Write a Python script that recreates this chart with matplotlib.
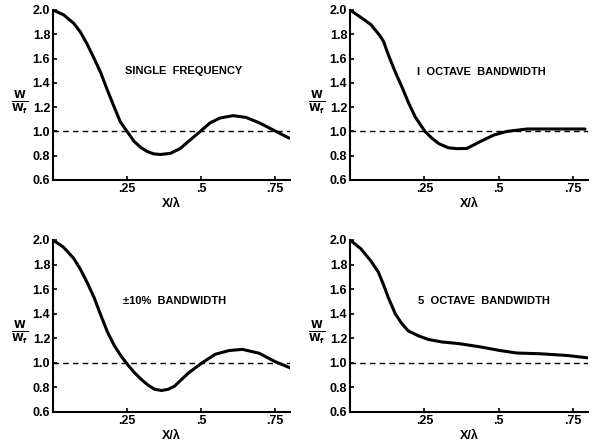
import matplotlib
matplotlib.use("Agg")
import matplotlib.pyplot as plt

plt.rcParams['font.family'] = ['Liberation Sans', 'DejaVu Sans']

# Single frequency
x_single = [0.0, 0.036, 0.07, 0.092, 0.115, 0.137, 0.16, 0.182, 0.205, 0.227, 0.25,
            0.273, 0.295, 0.318, 0.34, 0.363, 0.397, 0.43, 0.463, 0.497, 0.53,
            0.563, 0.608, 0.652, 0.697, 0.741, 0.797]
y_single = [2.0, 1.96, 1.89, 1.82, 1.72, 1.61, 1.49, 1.35, 1.21, 1.08, 1.0,
            0.92, 0.87, 0.835, 0.815, 0.81, 0.82, 0.86, 0.93, 1.0, 1.07,
            1.11, 1.13, 1.115, 1.07, 1.015, 0.945]

# 1 octave bandwidth
x_oct1 = [0.0, 0.036, 0.07, 0.1, 0.113, 0.129, 0.152, 0.174, 0.196, 0.219, 0.252,
          0.275, 0.298, 0.331, 0.36, 0.393, 0.438, 0.483, 0.527, 0.595, 0.70, 0.79]
y_oct1 = [2.0, 1.94, 1.88, 1.79, 1.74, 1.63, 1.49, 1.37, 1.24, 1.12, 1.0,
          0.945, 0.90, 0.865, 0.858, 0.86, 0.917, 0.97, 1.0, 1.02, 1.02, 1.02]

# +-10% bandwidth
x_bw10 = [0.0, 0.036, 0.07, 0.093, 0.116, 0.139, 0.161, 0.184, 0.207, 0.23, 0.252,
          0.275, 0.298, 0.32, 0.343, 0.366, 0.389, 0.41, 0.457, 0.503, 0.548,
          0.594, 0.639, 0.696, 0.753, 0.802]
y_bw10 = [2.0, 1.94, 1.85, 1.76, 1.65, 1.53, 1.39, 1.25, 1.14, 1.055, 0.985,
          0.92, 0.865, 0.82, 0.785, 0.775, 0.785, 0.81, 0.917, 1.0, 1.07,
          1.10, 1.11, 1.078, 1.006, 0.958]

# 5 octave bandwidth
x_oct5 = [0.0, 0.036, 0.07, 0.095, 0.112, 0.129, 0.152, 0.174, 0.196, 0.23, 0.264,
          0.309, 0.365, 0.438, 0.505, 0.561, 0.64, 0.73, 0.802]
y_oct5 = [2.0, 1.93, 1.83, 1.74, 1.64, 1.53, 1.40, 1.32, 1.26, 1.22, 1.19,
          1.17, 1.157, 1.13, 1.10, 1.08, 1.074, 1.06, 1.04]

titles = ["SINGLE  FREQUENCY", "I  OCTAVE  BANDWIDTH", "\u00b110%  BANDWIDTH", "5  OCTAVE  BANDWIDTH"]
label_pos = [(0.44, 1.5), (0.44, 1.49), (0.41, 1.5), (0.45, 1.5)]
yticks = [0.6, 0.8, 1.0, 1.2, 1.4, 1.6, 1.8, 2.0]
ytick_labels = ["0.6", "0.8", "1.0", "1.2", "1.4", "1.6", "1.8", "2.0"]
xticks = [0.25, 0.5, 0.75]
xtick_labels = [".25", ".5", ".75"]

series = [(x_single, y_single), (x_oct1, y_oct1), (x_bw10, y_bw10), (x_oct5, y_oct5)]

fig = plt.figure(figsize=(5.99, 4.45), dpi=100)
W, H = 599, 445
boxes = [(53, 10, 237, 170), (350, 10, 238, 170), (53, 240, 237, 172), (350, 240, 238, 172)]

for i, ((xs, ys), box) in enumerate(zip(series, boxes)):
    l, t, w, h = box
    ax = fig.add_axes([l / W, 1 - (t + h) / H, w / W, h / H])
    ax.plot(xs, ys, color='black', lw=2.2, solid_capstyle='round', solid_joinstyle='round')
    ax.plot([0, 0.8], [1.0, 1.0], color='black', lw=1, dashes=(4, 3))
    ax.set_xlim(0, 0.8)
    ax.set_ylim(0.6, 2.0)
    ax.spines['top'].set_visible(False)
    ax.spines['right'].set_visible(False)
    ax.spines['left'].set_linewidth(1.5)
    ax.spines['bottom'].set_linewidth(1.5)
    ax.set_yticks(yticks)
    ax.set_yticklabels(ytick_labels, fontsize=9, fontweight='bold')
    ax.set_xticks(xticks)
    ax.set_xticklabels(xtick_labels, fontsize=9, fontweight='bold')
    ax.tick_params(direction='in', length=3, width=1.2, pad=2)
    ax.text(label_pos[i][0], label_pos[i][1], titles[i], ha='center', va='center',
            fontsize=8, fontweight='bold')
    ax.set_xlabel("X/\u03bb", fontsize=9, fontweight='bold', labelpad=2)
    fig.text((l - 33) / W, 1 - (t + 92) / H, r'$\frac{\mathbf{W}}{\mathbf{W}_\mathbf{f}}$',
             ha='center', va='center', fontsize=11)

fig.savefig("out.png", dpi=100)
